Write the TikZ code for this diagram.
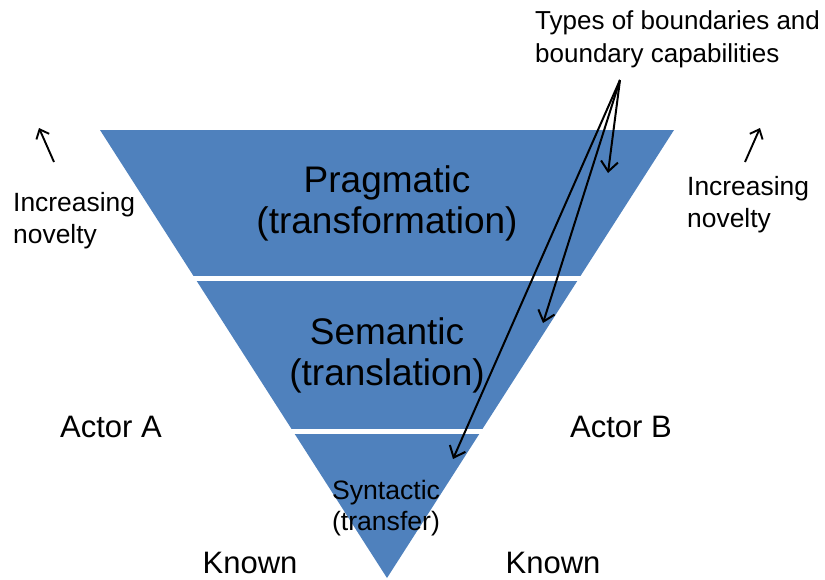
\documentclass[tikz,border=0pt]{standalone}
\usepackage{fontspec}
\setmainfont{Liberation Sans}
\usetikzlibrary{arrows.meta}
\definecolor{bandblue}{HTML}{4F81BD}
\tikzset{
  lbl/.style={inner sep=0pt, align=center, text=black},
  bigtxt/.style={lbl, font=\fontsize{37}{41}\selectfont},
  midtxt/.style={lbl, font=\fontsize{31}{36}\selectfont},
  smalltxt/.style={lbl, font=\fontsize{26.4}{32}\selectfont},
  pointer/.style={draw=black, line width=2pt, -{Straight Barb[length=10pt,width=17pt,line width=2pt]}},
  novelty/.style={draw=black, line width=1.9pt, -{Straight Barb[length=8pt,width=14pt,line width=1.9pt]}}
}
\begin{document}
\begin{tikzpicture}[x=1pt,y=-1pt]
\useasboundingbox (0,0) rectangle (825,579);
% inverted triangle split into three bands by white gaps
\fill[bandblue] (100,130) -- (674,130) -- (387,578) -- cycle;
\fill[white] (90,276) rectangle (700,281);
\fill[white] (90,429) rectangle (700,434);

% band labels
\node[bigtxt] (prag) at (387,203) {Pragmatic\\(transformation)};
\node[bigtxt] (sem) at (387,355) {Semantic\\(translation)};
\node[lbl, font=\fontsize{26.6}{31}\selectfont] (syn) at (386,508) {Syntactic\\(transfer)};

% side labels
\node[midtxt] (actA) at (111,427) {Actor A};
\node[midtxt] (actB) at (621,427) {Actor B};
\node[midtxt] (knA) at (250,563) {Known};
\node[midtxt] (knB) at (553,563) {Known};

\node[smalltxt, align=left, anchor=west] (novA) at (13,221) {Increasing\\novelty};
\node[smalltxt, align=left, anchor=west] (novB) at (687,205) {Increasing\\novelty};
\coordinate (upAs) at (54,162);
\coordinate (upAe) at (39,128);
\coordinate (upBs) at (745,162);
\coordinate (upBe) at (760,128);
\draw[novelty] (upAs) -- (upAe);
\draw[novelty] (upBs) -- (upBe);

% callout and its pointers
\node[lbl, align=left, anchor=west, font=\fontsize{26}{33}\selectfont] (types) at (535,39) {Types of boundaries and\\boundary capabilities};
\coordinate (src) at (620,80);
\coordinate (tprag) at (608,173);
\coordinate (tsem) at (543,323);
\coordinate (tsyn) at (453,459);
\draw[pointer] (src) -- (tprag);
\draw[pointer] (src) -- (tsem);
\draw[pointer] (src) -- (tsyn);
\end{tikzpicture}
\end{document}
